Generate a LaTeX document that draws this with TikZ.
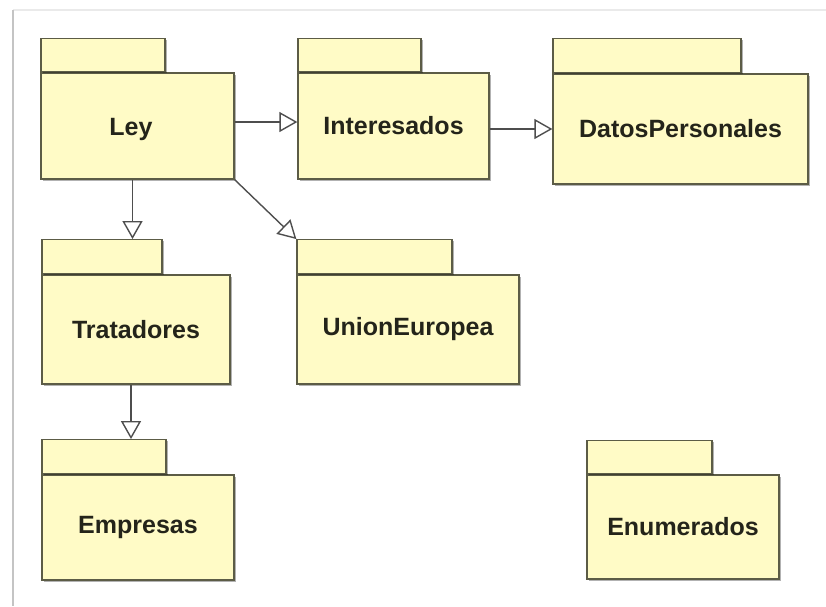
\documentclass[tikz,border=0pt]{standalone}
\usepackage{fontspec}
\setmainfont{Liberation Sans}
\usetikzlibrary{arrows.meta,shadows}
\definecolor{pkgfill}{HTML}{FFFBC6}
\definecolor{pkgline}{HTML}{5C5C46}
\definecolor{pkgtext}{HTML}{24241A}
\definecolor{linkline}{HTML}{4E4E4E}
\definecolor{framel}{HTML}{C4C4C4}
\definecolor{framet}{HTML}{EAEAEA}
\tikzset{
  pkgbody/.style={draw=pkgline, fill=pkgfill, line width=1.3pt, inner sep=0pt,
    text=pkgtext, font=\fontsize{25}{28}\selectfont\bfseries,
    drop shadow={shadow xshift=1.5pt, shadow yshift=-1.5pt, opacity=.3, fill=black}},
  pkgtab/.style={draw=pkgline, fill=pkgfill, line width=1.3pt, inner sep=0pt,
    anchor=south west,
    drop shadow={shadow xshift=1.5pt, shadow yshift=-1.5pt, opacity=.3, fill=black}},
  generalize/.style={draw=linkline, line width=1.4pt,
    -{Triangle[open, length=18pt, width=20pt, fill=white]}}
}
\begin{document}
\begin{tikzpicture}[x=1pt, y=-1pt]
  % canvas and frame edges
  \fill[white] (0,0) rectangle (826,606);
  \useasboundingbox (0,0) rectangle (826,606);
  \draw[framet, line width=1.5pt] (13,10) -- (826,10);
  \draw[framel, line width=2pt] (13,10) -- (13,606);

  % package bodies, each with its tab on top
  \node[pkgbody, minimum width=193, minimum height=106] (ley)   at (137.5,126) {};
  \node[pkgtab,  minimum width=124, minimum height=33]  (leyT)  at (ley.north west) {};
  \node[text=pkgtext, font=\fontsize{25}{28}\selectfont\bfseries] (leyL) at (131,129) {Ley};

  \node[pkgbody, minimum width=191, minimum height=106] (inter) at (393.5,126) {Interesados};
  \node[pkgtab,  minimum width=123, minimum height=33]  (interT) at (inter.north west) {};

  \node[pkgbody, minimum width=255, minimum height=110] (datos) at (680.5,129) {DatosPersonales};
  \node[pkgtab,  minimum width=188, minimum height=34]  (datosT) at (datos.north west) {};

  \node[pkgbody, minimum width=188, minimum height=109] (trat)  at (136,329.5) {Tratadores};
  \node[pkgtab,  minimum width=120, minimum height=34]  (tratT) at (trat.north west) {};

  \node[pkgbody, minimum width=222, minimum height=109] (union) at (408,329.5) {UnionEuropea};
  \node[pkgtab,  minimum width=155, minimum height=34]  (unionT) at (union.north west) {};

  \node[pkgbody, minimum width=192, minimum height=105] (empr)  at (138,527.5) {Empresas};
  \node[pkgtab,  minimum width=124, minimum height=34]  (emprT) at (empr.north west) {};

  \node[pkgbody, minimum width=192, minimum height=104] (enum)  at (683,527) {Enumerados};
  \node[pkgtab,  minimum width=125, minimum height=33]  (enumT) at (enum.north west) {};

  % generalization links
  \draw[generalize] ([yshift=4]ley.east) -- ([yshift=4]ley.east -| inter.west);
  \draw[generalize] (datos.west -| inter.east) -- (datos.west);
  \draw[generalize] ([xshift=-5]ley.south) -- ([xshift=-5]ley.south |- tratT.north);
  \draw[generalize] (ley.south east) -- (unionT.north west);
  \draw[generalize] ([xshift=-5]trat.south) -- ([xshift=-5]trat.south |- emprT.north);
\end{tikzpicture}
\end{document}
